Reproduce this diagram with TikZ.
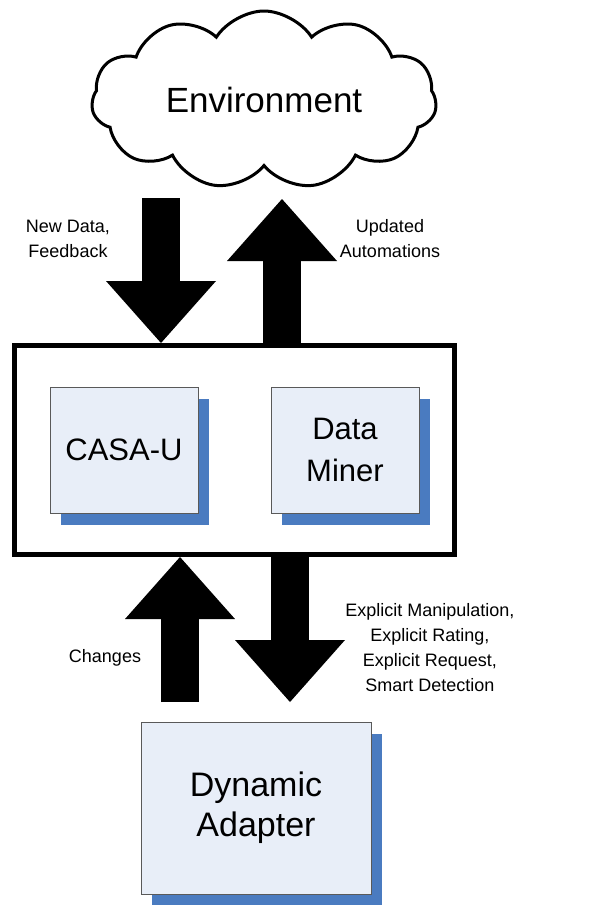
\documentclass[tikz,border=0pt]{standalone}
\usepackage{fontspec}
\setmainfont{Liberation Sans}
\usetikzlibrary{arrows.meta,shapes.symbols,shadows}
\definecolor{boxfill}{HTML}{E8EEF8}
\definecolor{boxshade}{HTML}{4A7BC0}
\tikzset{
  unit/.style={draw=black!65, fill=boxfill, align=center, minimum width=148pt, minimum height=126pt,
    font=\fontsize{31}{42}\selectfont,
    drop shadow={shadow xshift=11pt, shadow yshift=-12pt, fill=boxshade, opacity=1, draw=none}},
  bigarrow/.style={line width=38pt, -{Triangle[length=62pt,width=110pt,line width=0pt]}},
  lbl/.style={align=center, font=\fontsize{18}{25}\selectfont}
}
\begin{document}
\begin{tikzpicture}[x=1pt,y=-1pt]
  \useasboundingbox (0,0) rectangle (593,905);
  \node[cloud, cloud puffs=11, cloud puff arc=115, cloud ignores aspect, draw, line width=3pt,
    minimum width=345pt, minimum height=178pt, font=\fontsize{35}{42}\selectfont] (env) at (264,100) {Environment};
  \node[draw, line width=5pt, minimum width=440pt, minimum height=209pt] (sys) at (234.5,450) {};
  \node[unit] (casa) at (124,450) {CASA-U};
  \node[unit] (miner) at (345,450) {Data\\Miner};
  \node[unit, minimum width=230pt, minimum height=172pt, font=\fontsize{34}{40}\selectfont] (adapt) at (256,808) {Dynamic\\Adapter};
  \coordinate (feed) at (161,198);
  \coordinate (upd) at (282,199);
  \coordinate (chg) at (180,702);
  \coordinate (expl) at (290,702);
  \draw[bigarrow] (feed) -- (feed |- sys.north);
  \draw[bigarrow] (upd |- sys.north) -- (upd);
  \draw[bigarrow] (chg) -- (chg |- sys.south);
  \draw[bigarrow] (expl |- sys.south) -- (expl);
  \node[lbl] (feedlbl) at (68,239) {New Data,\\Feedback};
  \node[lbl] (updlbl) at (390,239) {Updated\\Automations};
  \node[lbl] (chglbl) at (105,658) {Changes};
  \node[lbl] (expllbl) at (430,648) {Explicit Manipulation,\\Explicit Rating,\\Explicit Request,\\Smart Detection};
\end{tikzpicture}
\end{document}
